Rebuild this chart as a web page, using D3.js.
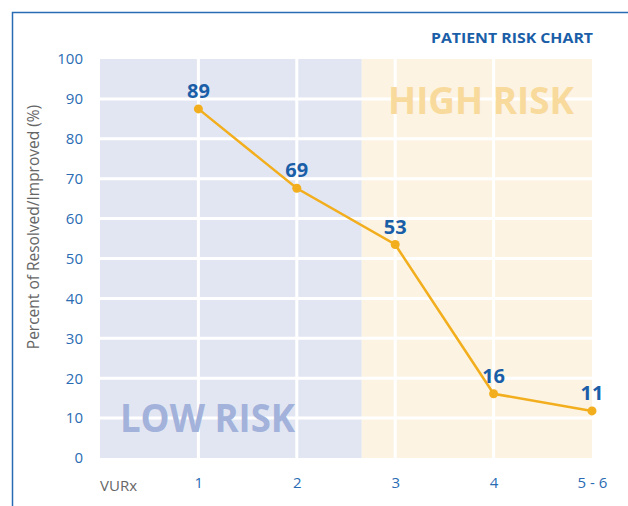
<!DOCTYPE html>
<html>
<head>
<meta charset="utf-8">
<script src="https://cdn.jsdelivr.net/npm/d3@7.9.0/dist/d3.min.js"></script>
<style>
  html, body { margin: 0; padding: 0; background: #fff; }
  svg { display: block; font-family: "Open Sans", "Noto Sans", sans-serif; }
</style>
</head>
<body>
<svg id="chart" width="628" height="506"></svg>
<script>
// Data
const categories = ['1', '2', '3', '4', '5 - 6'];
const values = [87.5, 67.6, 53.5, 16.1, 11.8];   // plotted position
const valueLabels = ['89', '69', '53', '16', '11']; // printed labels
const yTicks = [0, 10, 20, 30, 40, 50, 60, 70, 80, 90, 100];
const riskBoundary = 2.66; // in category index units (0 = VURx)

const width = 628, height = 506;
const plot = { left: 100, right: 592, top: 59, bottom: 458 };

const svg = d3.select('#chart');

// Frame
svg.append('path')
  .attr('d', `M12.5,${height} V12.5 H${width}`)
  .attr('fill', 'none')
  .attr('stroke', '#2a6cb4')
  .attr('stroke-width', 1.5);

const x = d3.scaleLinear().domain([0, 5]).range([plot.left, plot.right]);
const y = d3.scaleLinear().domain([0, 100]).range([plot.bottom, plot.top]);

// Background regions
svg.append('rect')
  .attr('x', x(0)).attr('y', y(100))
  .attr('width', x(riskBoundary) - x(0))
  .attr('height', y(0) - y(100))
  .attr('fill', '#e2e6f2');

svg.append('rect')
  .attr('x', x(riskBoundary)).attr('y', y(100))
  .attr('width', x(5) - x(riskBoundary))
  .attr('height', y(0) - y(100))
  .attr('fill', '#fcf3e3');

// Grid
const grid = svg.append('g').attr('stroke', '#fff').attr('stroke-width', 3);
grid.selectAll('line.h')
  .data(yTicks.filter(d => d > 0 && d < 100))
  .join('line')
  .attr('class', 'h')
  .attr('x1', x(0)).attr('x2', x(5))
  .attr('y1', d => y(d)).attr('y2', d => y(d));
grid.selectAll('line.v')
  .data([1, 2, 3, 4])
  .join('line')
  .attr('class', 'v')
  .attr('x1', d => x(d)).attr('x2', d => x(d))
  .attr('y1', y(100)).attr('y2', y(0));

// Risk labels
svg.append('text')
  .attr('x', 120).attr('y', 432)
  .attr('font-size', 40).attr('font-weight', 700)
  .attr('textLength', 175).attr('lengthAdjust', 'spacingAndGlyphs')
  .attr('fill', '#a3b2da')
  .text('LOW RISK');

svg.append('text')
  .attr('x', 388).attr('y', 114)
  .attr('font-size', 38).attr('font-weight', 700)
  .attr('textLength', 186).attr('lengthAdjust', 'spacingAndGlyphs')
  .attr('fill', '#f8da9c')
  .text('HIGH RISK');

// Axes
const yAxis = svg.append('g')
  .attr('transform', `translate(${plot.left},0)`)
  .call(d3.axisLeft(y).tickValues(yTicks).tickSize(0).tickPadding(17));
yAxis.select('.domain').remove();
yAxis.selectAll('text')
  .attr('font-family', '"Open Sans", sans-serif')
  .attr('font-size', 15).attr('fill', '#2a6cb4');

const xAxis = svg.append('g')
  .attr('transform', `translate(0,${plot.bottom})`)
  .call(d3.axisBottom(x).tickValues([1, 2, 3, 4, 5])
    .tickFormat(d => categories[d - 1]).tickSize(0).tickPadding(19));
xAxis.select('.domain').remove();
xAxis.selectAll('text')
  .attr('font-family', '"Open Sans", sans-serif')
  .attr('font-size', 15).attr('fill', '#2a6cb4');

svg.append('text')
  .attr('x', plot.left).attr('y', 491)
  .attr('font-size', 15).attr('fill', '#666')
  .text('VURx');

svg.append('text')
  .attr('transform', `translate(39,227) rotate(-90)`)
  .attr('text-anchor', 'middle')
  .attr('font-size', 15.5).attr('fill', '#666')
  .text('Percent of Resolved/Improved (%)');

// Title
svg.append('text')
  .attr('x', 593).attr('y', 43)
  .attr('text-anchor', 'end')
  .attr('font-size', 15).attr('font-weight', 700)
  .attr('textLength', 162).attr('lengthAdjust', 'spacingAndGlyphs')
  .attr('fill', '#1a5ea8')
  .text('PATIENT RISK CHART');

// Line + points
const pts = values.map((v, i) => ({ i: i + 1, v, label: valueLabels[i] }));

svg.append('path')
  .datum(pts)
  .attr('fill', 'none')
  .attr('stroke', '#f2ae1c')
  .attr('stroke-width', 2.5)
  .attr('d', d3.line().x(d => x(d.i)).y(d => y(d.v)));

svg.append('g').selectAll('circle')
  .data(pts)
  .join('circle')
  .attr('cx', d => x(d.i)).attr('cy', d => y(d.v))
  .attr('r', 4.5)
  .attr('fill', '#f2ae1c');

svg.append('g').selectAll('text')
  .data(pts)
  .join('text')
  .attr('x', d => x(d.i)).attr('y', d => y(d.v) - 11)
  .attr('text-anchor', 'middle')
  .attr('font-size', 20).attr('font-weight', 700)
  .attr('fill', '#1a5ea8')
  .text(d => d.label);
</script>
</body>
</html>
